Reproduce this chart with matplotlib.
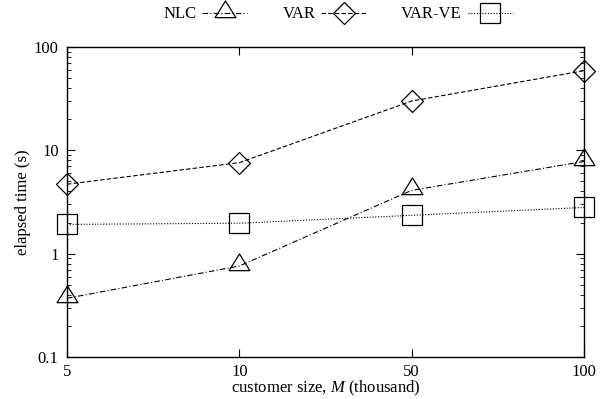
import matplotlib
matplotlib.use("Agg")
import matplotlib.pyplot as plt
from matplotlib.path import Path
from matplotlib.ticker import LogLocator, FixedLocator, NullFormatter, FuncFormatter

plt.rcParams['font.family'] = ['Liberation Serif', 'DejaVu Serif']
plt.rcParams['mathtext.fontset'] = 'custom'
plt.rcParams['mathtext.rm'] = 'Liberation Serif'
plt.rcParams['mathtext.it'] = 'Liberation Serif:italic'

categories = ["5", "10", "50", "100"]
nlc = [0.37, 0.76, 4.1, 7.8]
var = [4.7, 7.6, 30.0, 59.0]
var_ve = [1.92, 1.97, 2.35, 2.8]

tri = Path([(0, 1.2), (-1, -0.4), (1, -0.4), (0, 1.2)],
           [Path.MOVETO, Path.LINETO, Path.LINETO, Path.CLOSEPOLY])

fig = plt.figure(figsize=(6.07, 3.99), dpi=100)
ax = fig.add_axes([67/607, 1-357/399, (584-67)/607, (357-47)/399])
x = list(range(len(categories)))

ax.plot(x, nlc, color='black', lw=0.8, linestyle=(0, (5, 2, 1, 2)),
        marker=tri, ms=18, mfc='none', mec='black', mew=0.9, label='NLC', clip_on=False)
ax.plot(x, var, color='black', lw=0.8, linestyle=(0, (4, 2)),
        marker='D', ms=10.7, mfc='none', mec='black', mew=0.9, label='VAR', clip_on=False)
ax.plot(x, var_ve, color='black', lw=0.8, linestyle=(0, (1, 1.5)),
        marker='s', ms=15, mfc='none', mec='black', mew=0.9, label='VAR-VE', clip_on=False)

ax.set_yscale('log')
ax.set_ylim(0.1, 100)
ax.set_xlim(0, 3)
ax.set_xticks(x)
ax.set_xticklabels(categories)
ax.yaxis.set_major_locator(FixedLocator([0.1, 1, 10, 100]))
ax.yaxis.set_major_formatter(FuncFormatter(lambda v, p: {0.1: '0.1', 1: '1', 10: '10', 100: '100'}.get(round(v, 3), '')))
ax.yaxis.set_minor_locator(LogLocator(base=10, subs=range(2, 10)))
ax.yaxis.set_minor_formatter(NullFormatter())

ax.tick_params(axis='both', which='both', direction='in', top=True, right=True, labelsize=12)
ax.tick_params(axis='both', which='major', length=6, width=0.8)
ax.tick_params(axis='y', which='minor', length=3, width=0.6)
ax.tick_params(axis='x', which='major', pad=5)
ax.tick_params(axis='y', which='major', pad=6)
for s in ax.spines.values():
    s.set_linewidth(1.0)

fig.text(326/607, 1-388/399, 'customer size, $M$ (thousand)', fontsize=12, ha='center', va='center')
fig.text(23/607, 1-202/399, 'elapsed time (s)', fontsize=12, ha='center', va='center', rotation=90)

leg = fig.legend(loc='center', bbox_to_anchor=(338/607, 1-14.5/399), ncol=3, frameon=False,
                 markerfirst=False, fontsize=12, handlelength=2.7, columnspacing=2.1,
                 handletextpad=0.35)

fig.savefig('out.png', dpi=100)
